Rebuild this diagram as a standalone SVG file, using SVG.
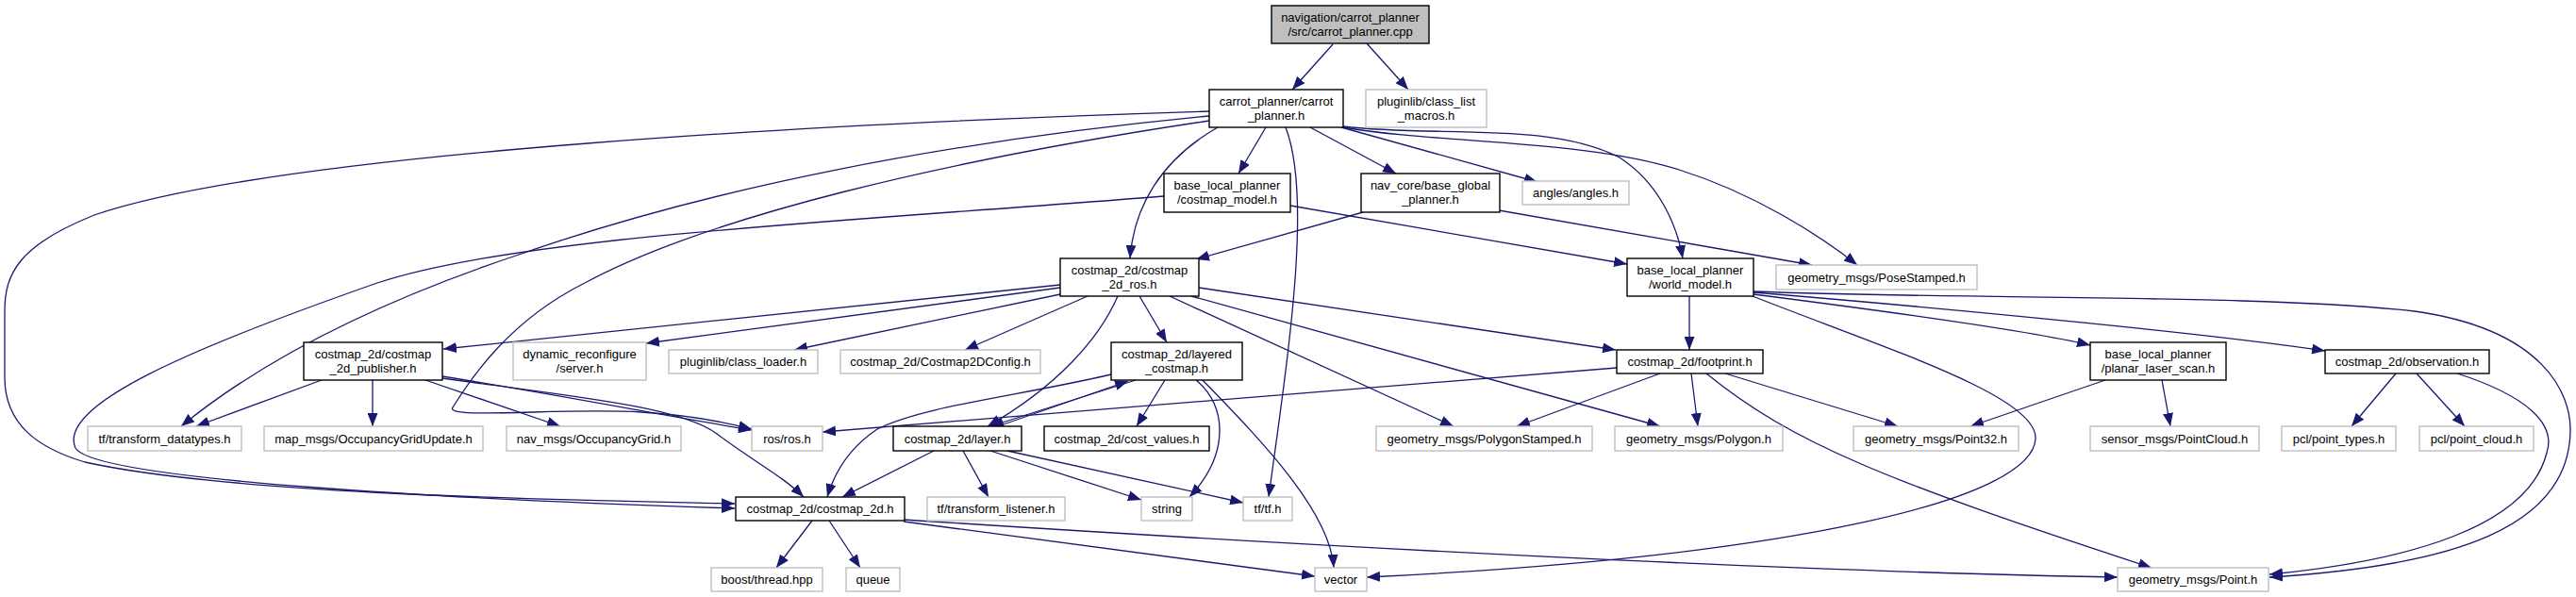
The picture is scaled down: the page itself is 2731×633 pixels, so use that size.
<svg xmlns="http://www.w3.org/2000/svg" width="2731" height="633" viewBox="0 0 2731 633">
<defs>
<marker id="a" markerWidth="14" markerHeight="11" refX="14" refY="5.5" orient="auto" markerUnits="userSpaceOnUse"><path d="M0,0 L14,5.5 L0,11 z" fill="#191970"/></marker>
<style>
.n rect{fill:#fff;stroke:#000;stroke-width:1.4}
.g rect{fill:#fff;stroke:#bfbfbf;stroke-width:1.4}
.r rect{fill:#bfbfbf;stroke:#000;stroke-width:1.4}
text{font-family:"Liberation Sans",Arial,sans-serif;font-size:13px;fill:#000;text-anchor:middle}
#edges path{fill:none;stroke:#191970;stroke-width:1.3;marker-end:url(#a)}
</style>
</defs>
<rect width="2731" height="633" fill="#fff"/>
<g id="edges">
<path d="M1413,47 L1370,95"/>
<path d="M1449,46 L1493,95"/>
<path d="M1342,135 L1313,184"/>
<path d="M1389,135 L1480,184"/>
<path d="M1422,135 L1630,193"/>
<path d="M1424,134 C1520,146 1640,128 1717,167 C1760,195 1778,240 1784,274"/>
<path d="M1424,135 C1520,152 1680,148 1780,180 C1860,205 1930,250 1969,281"/>
<path d="M1291,135 C1230,170 1202,220 1198,274"/>
<path d="M1363,135 C1392,210 1365,380 1345,527"/>
<path d="M1282,118 C900,130 300,160 100,228 C20,260 5,290 5,330 L5,400 C5,450 40,475 90,490 C250,525 600,530 779,534"/>
<path d="M1234,208 C900,235 550,250 400,300 C200,370 60,430 80,475 C100,510 500,530 779,539"/>
<path d="M1282,123 C1000,150 750,200 550,270 C400,320 280,380 192,452"/>
<path d="M1282,128 C1000,170 750,230 620,300 C540,340 500,400 480,432 C470,445 600,432 680,437 C730,440 770,448 797,455"/>
<path d="M1368,218 L1725,280"/>
<path d="M1445,225 L1268,275"/>
<path d="M1589,223 L1921,281"/>
<path d="M1124,302 L470,370"/>
<path d="M1124,305 L685,364"/>
<path d="M1124,312 L842,371"/>
<path d="M1153,314 L1023,371"/>
<path d="M1208,314 L1237,363"/>
<path d="M1185,314 C1165,360 1120,410 1047,452"/>
<path d="M1271,305 L1713,371"/>
<path d="M1240,314 L1541,452"/>
<path d="M1263,314 L1760,452"/>
<path d="M1204,403 L1050,452"/>
<path d="M1058,452 L1196,404"/>
<path d="M1235,403 L1205,452"/>
<path d="M1178,397 C1080,420 980,430 930,455 C900,475 885,500 877,527"/>
<path d="M1268,403 C1300,430 1305,480 1261,527"/>
<path d="M1275,403 C1330,460 1410,540 1414,602"/>
<path d="M990,478 L893,527"/>
<path d="M1021,478 L1048,527"/>
<path d="M1050,478 L1210,530"/>
<path d="M1068,478 L1318,533"/>
<path d="M861,552 L823,602"/>
<path d="M879,552 L912,602"/>
<path d="M958,553 L1394,611"/>
<path d="M958,551 C1400,580 1900,606 2245,612"/>
<path d="M1791,314 L1791,371"/>
<path d="M1859,312 C2000,330 2150,350 2216,366"/>
<path d="M1859,310 C2100,330 2350,355 2465,372"/>
<path d="M1859,309 C2100,318 2400,312 2560,330 C2700,350 2725,420 2725,455 C2725,560 2600,600 2406,612"/>
<path d="M1858,314 C2000,370 2160,420 2158,465 C2155,530 1900,590 1449,612"/>
<path d="M2540,396 L2493,452"/>
<path d="M2562,396 L2613,452"/>
<path d="M2605,396 C2680,420 2710,450 2700,480 C2680,560 2550,595 2406,609"/>
<path d="M2232,403 L2089,452"/>
<path d="M2292,403 L2301,452"/>
<path d="M1760,396 L1608,452"/>
<path d="M1793,396 L1800,452"/>
<path d="M1829,396 L2012,452"/>
<path d="M1809,396 C1900,470 2000,510 2281,602"/>
<path d="M1714,390 L872,458"/>
<path d="M341,403 L208,452"/>
<path d="M395,403 L395,452"/>
<path d="M451,403 L594,452"/>
<path d="M469,399 C600,420 700,440 797,456"/>
<path d="M469,401 C600,420 720,430 760,460 C800,490 830,505 852,527"/>
</g>
<g id="root" class="r"><rect x="1348" y="6" width="167" height="40"/><text x="1431.5" y="23">navigation/carrot_planner</text><text x="1431.5" y="38">/src/carrot_planner.cpp</text></g>
<g id="carrot_planner_h" class="n"><rect x="1282" y="95" width="142" height="40"/><text x="1353" y="112">carrot_planner/carrot</text><text x="1353" y="127">_planner.h</text></g>
<g id="class_list_macros" class="g"><rect x="1448" y="95" width="128" height="40"/><text x="1512" y="112">pluginlib/class_list</text><text x="1512" y="127">_macros.h</text></g>
<g id="costmap_model" class="n"><rect x="1234" y="184" width="134" height="41"/><text x="1301" y="201">base_local_planner</text><text x="1301" y="216">/costmap_model.h</text></g>
<g id="base_global_planner" class="n"><rect x="1443" y="184" width="147" height="41"/><text x="1516.5" y="201">nav_core/base_global</text><text x="1516.5" y="216">_planner.h</text></g>
<g id="angles" class="g"><rect x="1614" y="192" width="113" height="25"/><text x="1670.5" y="209">angles/angles.h</text></g>
<g id="costmap_2d_ros" class="n"><rect x="1124" y="274" width="147" height="40"/><text x="1197.5" y="291">costmap_2d/costmap</text><text x="1197.5" y="306">_2d_ros.h</text></g>
<g id="world_model" class="n"><rect x="1725" y="274" width="134" height="40"/><text x="1792" y="291">base_local_planner</text><text x="1792" y="306">/world_model.h</text></g>
<g id="pose_stamped" class="g"><rect x="1883" y="281" width="213" height="26"/><text x="1989.5" y="298.5">geometry_msgs/PoseStamped.h</text></g>
<g id="publisher" class="n"><rect x="322" y="363" width="147" height="40"/><text x="395.5" y="380">costmap_2d/costmap</text><text x="395.5" y="395">_2d_publisher.h</text></g>
<g id="dyn_server" class="g"><rect x="544" y="363" width="141" height="40"/><text x="614.5" y="380">dynamic_reconfigure</text><text x="614.5" y="395">/server.h</text></g>
<g id="class_loader" class="g"><rect x="709" y="371" width="158" height="25"/><text x="788" y="388">pluginlib/class_loader.h</text></g>
<g id="config" class="g"><rect x="891" y="371" width="212" height="25"/><text x="997" y="388">costmap_2d/Costmap2DConfig.h</text></g>
<g id="layered_costmap" class="n"><rect x="1178" y="363" width="139" height="40"/><text x="1247.5" y="380">costmap_2d/layered</text><text x="1247.5" y="395">_costmap.h</text></g>
<g id="footprint" class="n"><rect x="1714" y="371" width="155" height="25"/><text x="1791.5" y="388">costmap_2d/footprint.h</text></g>
<g id="planar_laser_scan" class="n"><rect x="2216" y="363" width="144" height="40"/><text x="2288" y="380">base_local_planner</text><text x="2288" y="395">/planar_laser_scan.h</text></g>
<g id="observation" class="n"><rect x="2465" y="371" width="174" height="25"/><text x="2552" y="388">costmap_2d/observation.h</text></g>
<g id="transform_datatypes" class="g"><rect x="93" y="452" width="163" height="26"/><text x="174.5" y="469.5">tf/transform_datatypes.h</text></g>
<g id="grid_update" class="g"><rect x="280" y="452" width="232" height="26"/><text x="396" y="469.5">map_msgs/OccupancyGridUpdate.h</text></g>
<g id="occupancy_grid" class="g"><rect x="537" y="452" width="185" height="26"/><text x="629.5" y="469.5">nav_msgs/OccupancyGrid.h</text></g>
<g id="ros_h" class="g"><rect x="797" y="452" width="75" height="26"/><text x="834.5" y="469.5">ros/ros.h</text></g>
<g id="layer_h" class="n"><rect x="947" y="452" width="136" height="26"/><text x="1015" y="469.5">costmap_2d/layer.h</text></g>
<g id="cost_values" class="n"><rect x="1107" y="452" width="175" height="26"/><text x="1194.5" y="469.5">costmap_2d/cost_values.h</text></g>
<g id="polygon_stamped" class="g"><rect x="1459" y="452" width="229" height="26"/><text x="1573.5" y="469.5">geometry_msgs/PolygonStamped.h</text></g>
<g id="polygon" class="g"><rect x="1712" y="452" width="178" height="26"/><text x="1801" y="469.5">geometry_msgs/Polygon.h</text></g>
<g id="point32" class="g"><rect x="1965" y="452" width="175" height="26"/><text x="2052.5" y="469.5">geometry_msgs/Point32.h</text></g>
<g id="point_cloud_msg" class="g"><rect x="2216" y="452" width="179" height="26"/><text x="2305.5" y="469.5">sensor_msgs/PointCloud.h</text></g>
<g id="pcl_point_types" class="g"><rect x="2419" y="452" width="121" height="26"/><text x="2479.5" y="469.5">pcl/point_types.h</text></g>
<g id="pcl_point_cloud" class="g"><rect x="2565" y="452" width="121" height="26"/><text x="2625.5" y="469.5">pcl/point_cloud.h</text></g>
<g id="costmap_2d_h" class="n"><rect x="780" y="527" width="179" height="25"/><text x="869.5" y="544">costmap_2d/costmap_2d.h</text></g>
<g id="transform_listener" class="g"><rect x="983" y="527" width="146" height="25"/><text x="1056" y="544">tf/transform_listener.h</text></g>
<g id="string" class="g"><rect x="1210" y="527" width="54" height="25"/><text x="1237" y="544">string</text></g>
<g id="tf_h" class="g"><rect x="1318" y="527" width="52" height="25"/><text x="1344" y="544">tf/tf.h</text></g>
<g id="boost_thread" class="g"><rect x="754" y="602" width="118" height="25"/><text x="813" y="619">boost/thread.hpp</text></g>
<g id="queue" class="g"><rect x="897" y="602" width="57" height="25"/><text x="925.5" y="619">queue</text></g>
<g id="vector" class="g"><rect x="1394" y="602" width="55" height="25"/><text x="1421.5" y="619">vector</text></g>
<g id="point_h" class="g"><rect x="2245" y="602" width="160" height="25"/><text x="2325" y="619">geometry_msgs/Point.h</text></g>
</svg>
